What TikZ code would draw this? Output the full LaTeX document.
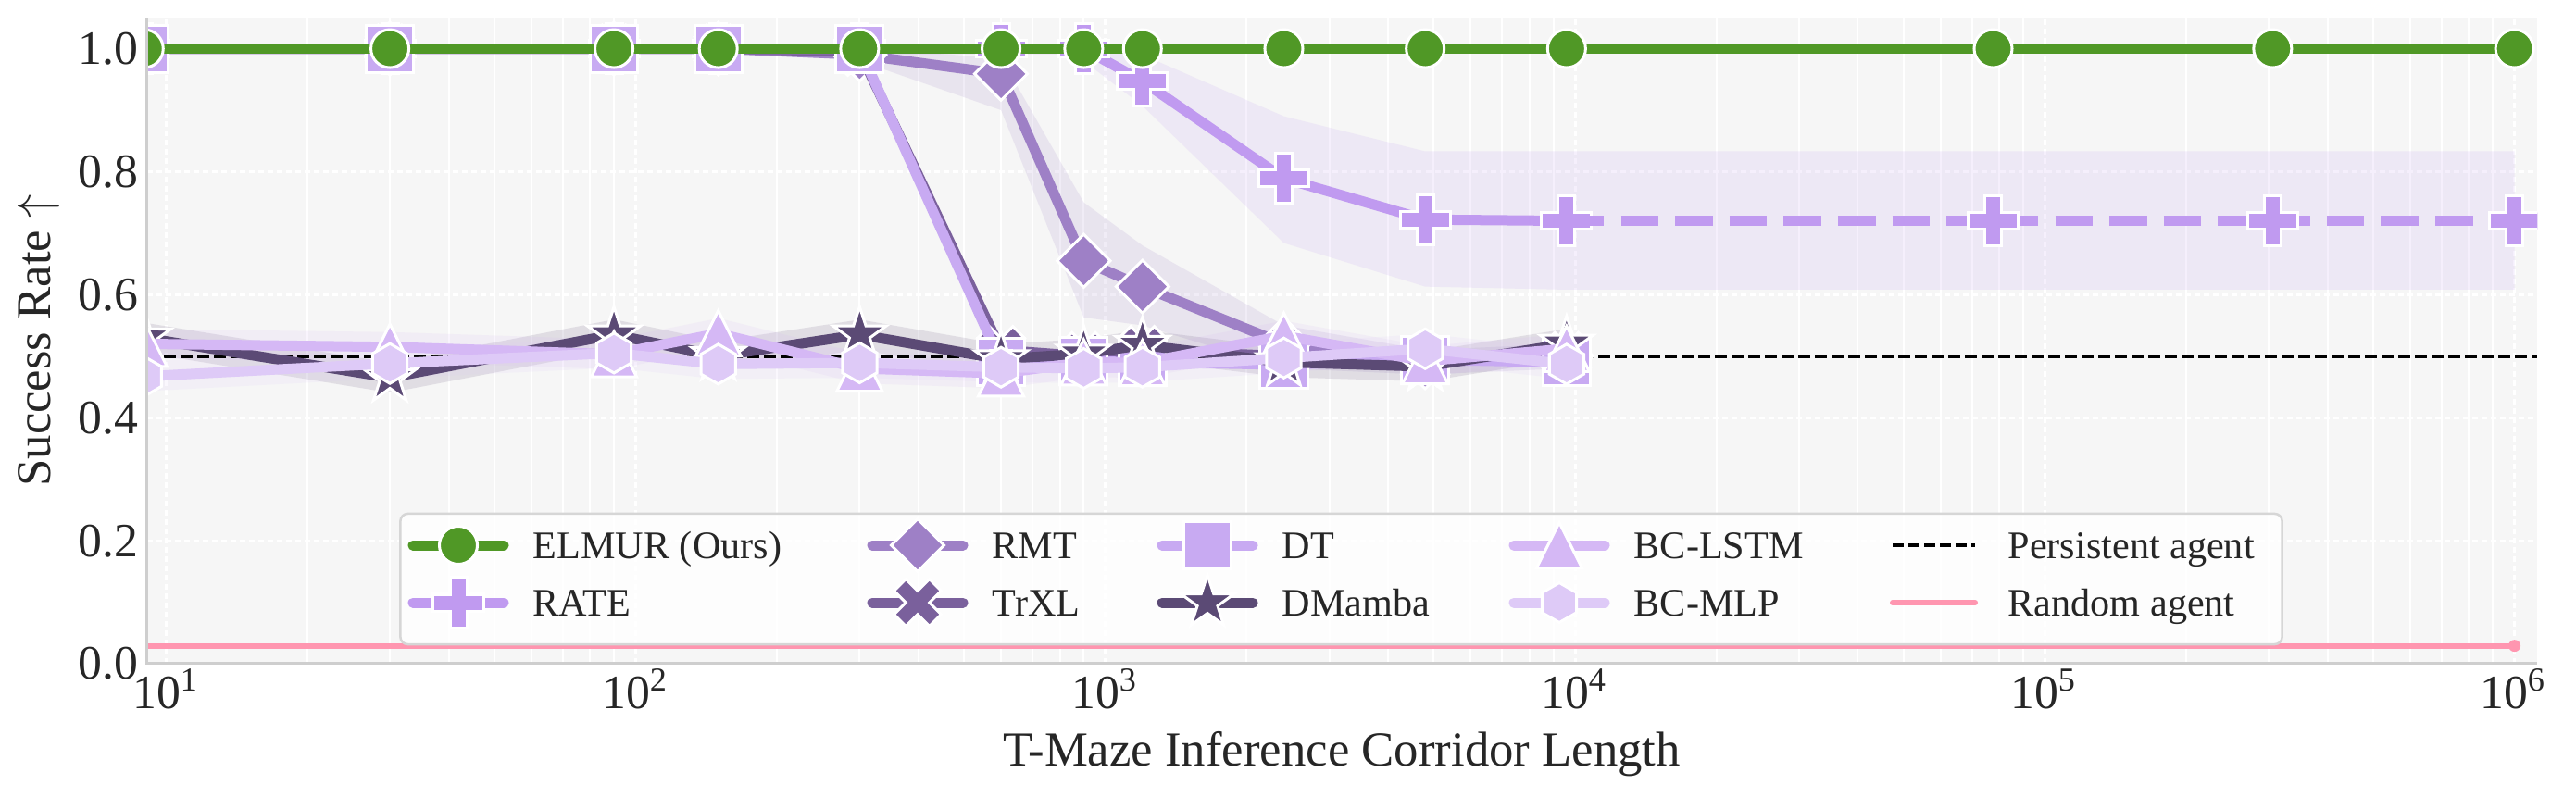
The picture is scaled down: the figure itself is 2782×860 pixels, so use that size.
\documentclass[tikz,border=0pt]{standalone}
\usepackage{fontspec}
\setmainfont{Liberation Serif}

\definecolor{elmurgreen}{RGB}{80,152,38}
\definecolor{ratecol}{RGB}{192,154,240}
\definecolor{rmtcol}{RGB}{158,128,198}
\definecolor{trxlcol}{RGB}{122,96,156}
\definecolor{dtcol}{RGB}{200,170,242}
\definecolor{dmambacol}{RGB}{91,74,117}
\definecolor{lstmcol}{RGB}{213,184,245}
\definecolor{mlpcol}{RGB}{222,202,247}
\definecolor{randomcol}{RGB}{255,150,176}
\definecolor{plotbg}{RGB}{246,246,246}
\definecolor{spinecol}{RGB}{206,206,206}
\definecolor{legborder}{RGB}{214,214,214}
\definecolor{axtext}{RGB}{38,38,38}

% markers
\pgfdeclareplotmark{elmurdot}{\pgfpathcircle{\pgfpointorigin}{0.205cm}\pgfusepathqfillstroke}
\pgfdeclareplotmark{ratecross}{%
  \pgfpathmoveto{\pgfpoint{-0.09cm}{0.27cm}}\pgfpathlineto{\pgfpoint{0.09cm}{0.27cm}}%
  \pgfpathlineto{\pgfpoint{0.09cm}{0.09cm}}\pgfpathlineto{\pgfpoint{0.27cm}{0.09cm}}%
  \pgfpathlineto{\pgfpoint{0.27cm}{-0.09cm}}\pgfpathlineto{\pgfpoint{0.09cm}{-0.09cm}}%
  \pgfpathlineto{\pgfpoint{0.09cm}{-0.27cm}}\pgfpathlineto{\pgfpoint{-0.09cm}{-0.27cm}}%
  \pgfpathlineto{\pgfpoint{-0.09cm}{-0.09cm}}\pgfpathlineto{\pgfpoint{-0.27cm}{-0.09cm}}%
  \pgfpathlineto{\pgfpoint{-0.27cm}{0.09cm}}\pgfpathlineto{\pgfpoint{-0.09cm}{0.09cm}}%
  \pgfpathclose\pgfusepathqfillstroke}
\pgfdeclareplotmark{trxlcross}{\pgftransformrotate{45}\pgfuseplotmark{ratecross}}
\pgfdeclareplotmark{rmtdiamond}{%
  \pgfpathmoveto{\pgfpoint{0cm}{0.285cm}}\pgfpathlineto{\pgfpoint{0.285cm}{0cm}}%
  \pgfpathlineto{\pgfpoint{0cm}{-0.285cm}}\pgfpathlineto{\pgfpoint{-0.285cm}{0cm}}%
  \pgfpathclose\pgfusepathqfillstroke}
\pgfdeclareplotmark{dtsquare}{\pgfpathrectangle{\pgfpoint{-0.255cm}{-0.255cm}}{\pgfpoint{0.51cm}{0.51cm}}\pgfusepathqfillstroke}
\pgfdeclareplotmark{dmstar}{%
  \pgfpathmoveto{\pgfpointpolar{90}{0.3cm}}\pgfpathlineto{\pgfpointpolar{126}{0.115cm}}%
  \pgfpathlineto{\pgfpointpolar{162}{0.3cm}}\pgfpathlineto{\pgfpointpolar{198}{0.115cm}}%
  \pgfpathlineto{\pgfpointpolar{234}{0.3cm}}\pgfpathlineto{\pgfpointpolar{270}{0.115cm}}%
  \pgfpathlineto{\pgfpointpolar{306}{0.3cm}}\pgfpathlineto{\pgfpointpolar{342}{0.115cm}}%
  \pgfpathlineto{\pgfpointpolar{18}{0.3cm}}\pgfpathlineto{\pgfpointpolar{54}{0.115cm}}%
  \pgfpathclose\pgfusepathqfillstroke}
\pgfdeclareplotmark{lstmtri}{%
  \pgfpathmoveto{\pgfpoint{0cm}{0.245cm}}\pgfpathlineto{\pgfpoint{-0.245cm}{-0.245cm}}%
  \pgfpathlineto{\pgfpoint{0.245cm}{-0.245cm}}\pgfpathclose\pgfusepathqfillstroke}
\pgfdeclareplotmark{mlphex}{%
  \pgfpathmoveto{\pgfpointpolar{90}{0.215cm}}\pgfpathlineto{\pgfpointpolar{150}{0.215cm}}%
  \pgfpathlineto{\pgfpointpolar{210}{0.215cm}}\pgfpathlineto{\pgfpointpolar{270}{0.215cm}}%
  \pgfpathlineto{\pgfpointpolar{330}{0.215cm}}\pgfpathlineto{\pgfpointpolar{30}{0.215cm}}%
  \pgfpathclose\pgfusepathqfillstroke}

\begin{document}
\begin{tikzpicture}[x=0.01cm, y=0.01cm,
    series/.style={line width=0.11cm, line cap=round, line join=round},
    mk/.style={mark options={solid, draw=white, fill=#1, line width=0.03cm, line join=miter}},
    band/.style={fill=#1, fill opacity=0.15},
    spread/.style={draw=#1, draw opacity=0.14, line width=0.32cm, line join=round},
    minorgrid/.style={white, line width=0.02cm},
    majorgrid/.style={white, line width=0.03cm, dash pattern=on 0.06cm off 0.04cm},
    tick/.style={text=axtext, font=\fontsize{14.7}{17}\selectfont, inner sep=0pt},
    entry/.style={text=axtext, font=\fontsize{12}{14}\selectfont, anchor=base west, inner sep=0pt}]
    \fill[white] (0,0) rectangle (2782,860);
    \useasboundingbox (0,0) rectangle (2782,860);

    % Data area: x = log10(length), y = success rate
    \begin{scope}[xshift=-3.28cm, yshift=1.43cm, x=5.07cm, y=6.64cm]
    \begin{scope}
    \clip (0.960,0) rectangle (6.049,1.05);
    \fill[plotbg] (0.960,0) rectangle (6.049,1.05);
    \foreach \k in {0,...,5}
        \foreach \m in {2,...,9}
            \draw[minorgrid] ({\k+log10(\m)},0) -- ({\k+log10(\m)},1.05);
    \foreach \k in {1,...,6}
        \draw[majorgrid] (\k,0) -- (\k,1.05);
    \foreach \v in {0.2,0.4,0.6,0.8,1.0}
        \draw[majorgrid] (0.960,\v) -- (6.049,\v);

    % Spread of the runs
    \fill[band=ratecol] plot coordinates {(2.954,1) (3.079,0.99) (3.380,0.89) (3.681,0.833) (3.982,0.833) (6.0,0.833)}
        -- plot coordinates {(6.0,0.608) (3.982,0.608) (3.681,0.613) (3.380,0.684) (3.079,0.907) (2.954,0.98)} -- cycle;
    \fill[band=rmtcol] plot coordinates {(2.477,1) (2.778,0.985) (2.954,0.75) (3.079,0.68) (3.380,0.55) (3.681,0.51) (3.982,0.52)}
        -- plot coordinates {(3.982,0.48) (3.681,0.47) (3.380,0.48) (3.079,0.55) (2.954,0.563) (2.778,0.90) (2.477,0.98)} -- cycle;
    \draw[spread=dmambacol] plot coordinates {(0.954,0.53) (1.477,0.465) (1.954,0.535) (2.176,0.50) (2.477,0.535) (2.778,0.495) (2.954,0.504) (3.079,0.518) (3.380,0.49) (3.681,0.483) (3.982,0.52)};
    \draw[spread=lstmcol] plot coordinates {(0.954,0.52) (1.477,0.515) (1.954,0.503) (2.176,0.537) (2.477,0.48) (2.778,0.472) (2.954,0.49) (3.079,0.489) (3.380,0.533) (3.681,0.492) (3.982,0.512)};
    \draw[spread=mlpcol] plot coordinates {(0.954,0.467) (1.477,0.488) (1.954,0.505) (2.176,0.487) (2.477,0.489) (2.778,0.482) (2.954,0.48) (3.079,0.482) (3.380,0.497) (3.681,0.512) (3.982,0.487)};

    % Persistent and random agents
    \draw[black, line width=0.04cm, dash pattern=on 0.13cm off 0.05cm] (0.960,0.5) -- (6.049,0.5);
    \draw[randomcol, line width=0.06cm] (0.960,0.029) -- (6.0,0.029);
    \fill[randomcol] (6.0,0.029) circle (0.065cm);

    % Methods
    \draw[series, ratecol, mark=ratecross, mk=ratecol] plot coordinates {(0.954,1) (1.477,1) (1.954,1) (2.176,1) (2.477,1) (2.778,1) (2.954,1) (3.079,0.947) (3.380,0.789) (3.681,0.722) (3.982,0.72)};
    \draw[ratecol, line width=0.11cm, dash pattern=on 0.405cm off 0.181cm, mark=ratecross, mk=ratecol, mark indices={2,3,4}] plot coordinates {(3.982,0.72) (4.89,0.72) (5.485,0.72) (6.0,0.72)};
    \draw[series, rmtcol, mark=rmtdiamond, mk=rmtcol] plot coordinates {(0.954,1) (1.477,1) (1.954,1) (2.176,1) (2.477,0.99) (2.778,0.959) (2.954,0.655) (3.079,0.613) (3.380,0.52) (3.681,0.49) (3.982,0.50)};
    \draw[series, trxlcol, mark=trxlcross, mk=trxlcol] plot coordinates {(0.954,1) (1.477,1) (1.954,1) (2.176,1) (2.477,0.995) (2.778,0.51) (2.954,0.50) (3.079,0.51) (3.380,0.50) (3.681,0.49) (3.982,0.50)};
    \draw[series, dtcol, mark=dtsquare, mk=dtcol] plot coordinates {(0.954,1) (1.477,1) (1.954,1) (2.176,1) (2.477,1) (2.778,0.49) (2.954,0.492) (3.079,0.49) (3.380,0.486) (3.681,0.494) (3.982,0.49)};
    \draw[series, dmambacol, mark=dmstar, mk=dmambacol] plot coordinates {(0.954,0.53) (1.477,0.465) (1.954,0.535) (2.176,0.50) (2.477,0.535) (2.778,0.495) (2.954,0.504) (3.079,0.518) (3.380,0.49) (3.681,0.483) (3.982,0.52)};
    \draw[series, lstmcol, mark=lstmtri, mk=lstmcol] plot coordinates {(0.954,0.52) (1.477,0.515) (1.954,0.503) (2.176,0.537) (2.477,0.48) (2.778,0.472) (2.954,0.49) (3.079,0.489) (3.380,0.533) (3.681,0.492) (3.982,0.512)};
    \draw[series, mlpcol, mark=mlphex, mk=mlpcol] plot coordinates {(0.954,0.467) (1.477,0.488) (1.954,0.505) (2.176,0.487) (2.477,0.489) (2.778,0.482) (2.954,0.48) (3.079,0.482) (3.380,0.497) (3.681,0.512) (3.982,0.487)};
    \draw[series, elmurgreen, mark=elmurdot, mk=elmurgreen] plot coordinates {(0.954,1) (1.477,1) (1.954,1) (2.176,1) (2.477,1) (2.778,1) (2.954,1) (3.079,1) (3.380,1) (3.681,1) (3.982,1) (4.89,1) (5.485,1) (6.0,1)};
    \end{scope}

    % Spines
    \draw[spinecol, line width=0.03cm] (0.960,1.05) -- (0.960,0) -- (6.049,0);
    \end{scope}

    % Tick labels
    \foreach \v/\t [count=\i] in {0/0.0, 0.2/0.2, 0.4/0.4, 0.6/0.6, 0.8/0.8, 1/1.0}
        \node[tick, anchor=east] (yt\i) at (150,{143+664*\v}) {\t};
    \foreach \k in {1,...,6}
        \node[tick, anchor=base] (xt\k) at ({-328+507*\k},95) {10\textsuperscript{\k}};

    % Axis labels
    \node[text=axtext, font=\fontsize{15}{18}\selectfont, rotate=90] (ylabel) at (42,492) {Success Rate $\uparrow$};
    \node[text=axtext, font=\fontsize{15}{18}\selectfont, anchor=base] (xlabel) at (1449,33) {T-Maze Inference Corridor Length};

    % Legend
    \node[draw=legborder, fill=white, fill opacity=0.85, line width=0.025cm, rounded corners=0.08cm,
          minimum width=20.31cm, minimum height=1.41cm, inner sep=0pt] (legend) at (1448.5,234.5) {};
    \foreach \cx/\cy/\col/\mk/\lbl in {495/271/elmurgreen/elmurdot/ELMUR (Ours), 495/209/ratecol/ratecross/RATE,
            991/271/rmtcol/rmtdiamond/RMT, 991/209/trxlcol/trxlcross/TrXL,
            1304/271/dtcol/dtsquare/DT, 1304/209/dmambacol/dmstar/DMamba,
            1684/271/lstmcol/lstmtri/BC-LSTM, 1684/209/mlpcol/mlphex/BC-MLP} {
        \draw[series, draw=\col, mark=\mk, mk=\col, mark indices={2}] plot coordinates {(\cx-49,\cy) (\cx,\cy) (\cx+49,\cy)};
        \node[entry] (lab\mk) at (\cx+80,\cy-14) {\lbl};
    }
    \draw[black, line width=0.035cm, dash pattern=on 0.12cm off 0.05cm] (2044,271) -- (2133,271);
    \node[entry] (labpersist) at (2168,257) {Persistent agent};
    \draw[randomcol, line width=0.06cm, line cap=round] (2044,209) -- (2133,209);
    \node[entry] (labrandom) at (2168,195) {Random agent};
\end{tikzpicture}
\end{document}
